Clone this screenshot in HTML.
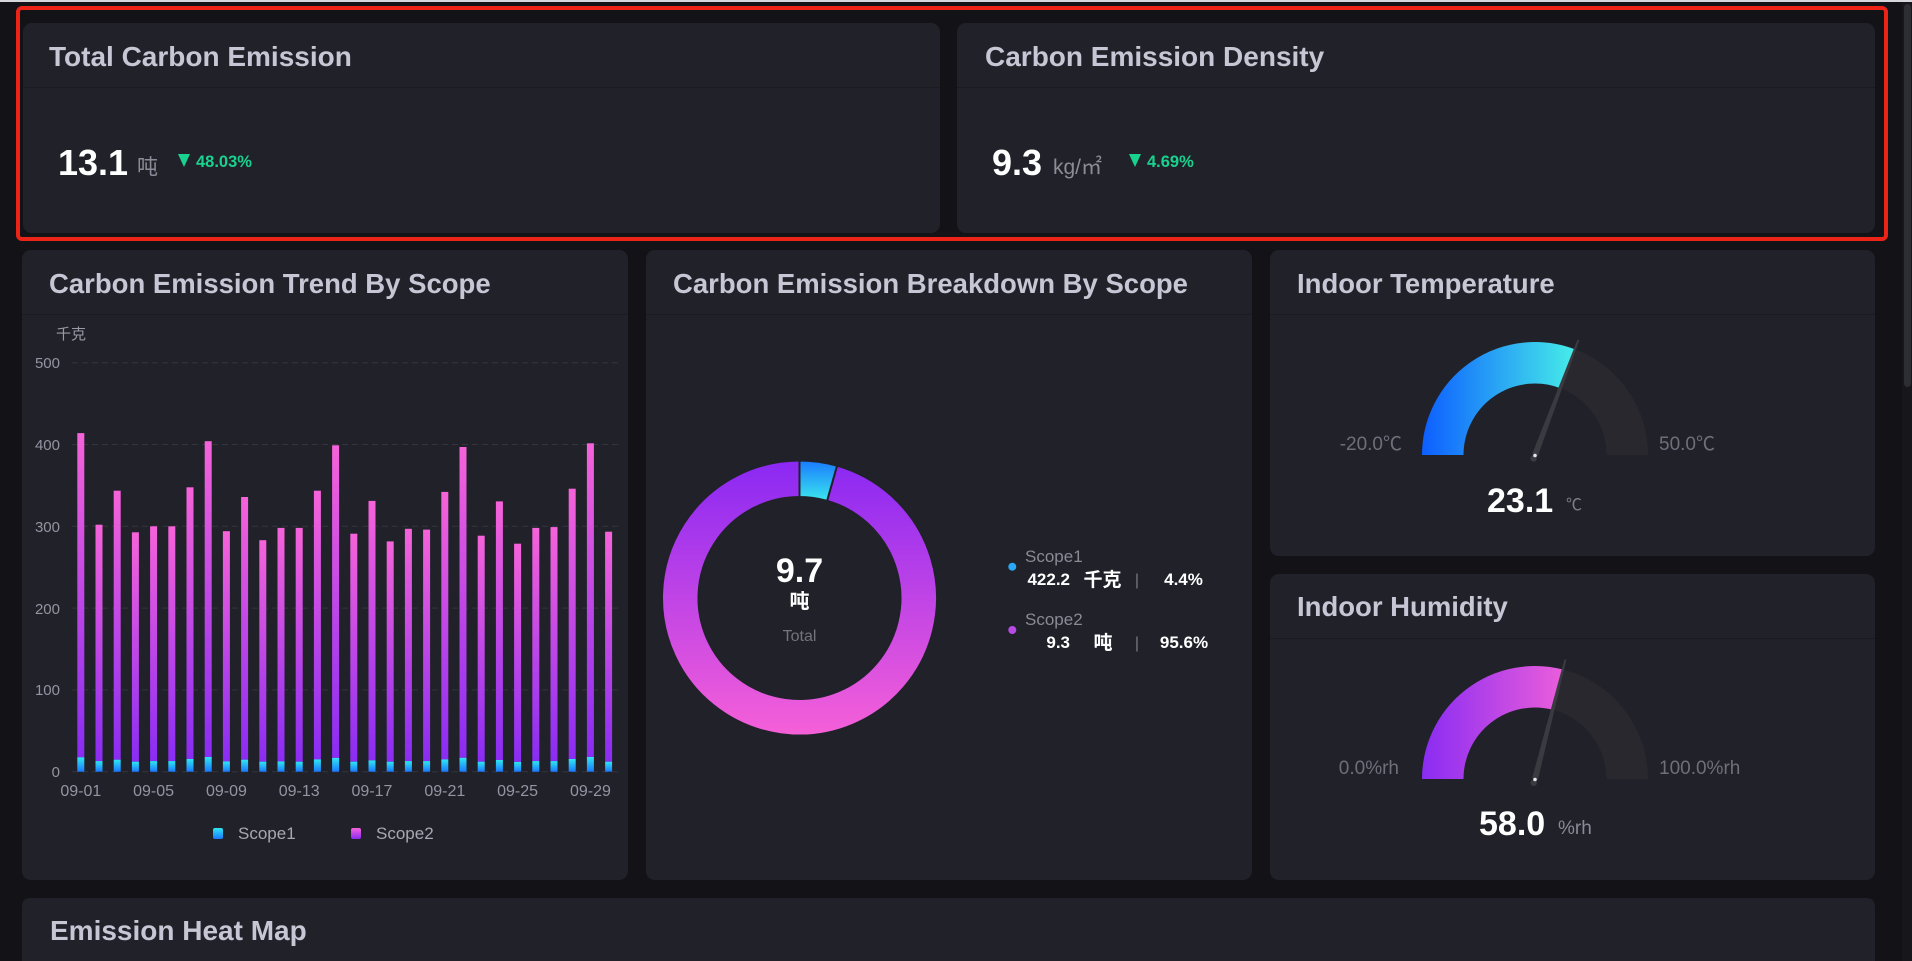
<!DOCTYPE html>
<html><head><meta charset="utf-8"><style>
html,body{margin:0;padding:0;background:#131317;width:1912px;height:961px;overflow:hidden}
svg{display:block}
text{font-family:"Liberation Sans","Noto Sans CJK SC",sans-serif}
</style></head><body>
<svg width="1912" height="961" viewBox="0 0 1912 961" xmlns="http://www.w3.org/2000/svg">
<defs>
<linearGradient id="s2" x1="0" y1="0" x2="0" y2="1"><stop offset="0" stop-color="#f663d9"/><stop offset="1" stop-color="#8a2cf3"/></linearGradient>
<linearGradient id="s1" x1="0" y1="0" x2="0" y2="1"><stop offset="0" stop-color="#30e6f0"/><stop offset="1" stop-color="#1a78ff"/></linearGradient>
<linearGradient id="d2" gradientUnits="userSpaceOnUse" x1="0" y1="460" x2="0" y2="736"><stop offset="0" stop-color="#8a28f3"/><stop offset="1" stop-color="#f660d8"/></linearGradient>
<linearGradient id="d1" x1="0" y1="0" x2="0" y2="1"><stop offset="0" stop-color="#1a7aff"/><stop offset="1" stop-color="#3ae8ee"/></linearGradient>
<linearGradient id="gt" gradientUnits="userSpaceOnUse" x1="1422" y1="0" x2="1580" y2="0"><stop offset="0" stop-color="#0d5eff"/><stop offset="1" stop-color="#48f2e8"/></linearGradient>
<linearGradient id="gh" gradientUnits="userSpaceOnUse" x1="1422" y1="0" x2="1575" y2="0"><stop offset="0" stop-color="#8a2cf3"/><stop offset="1" stop-color="#f262d8"/></linearGradient>
</defs>
<rect x="0" y="0" width="1912" height="961" fill="#131317"/>
<rect x="0" y="0" width="1912" height="2" fill="#d6d6db"/>

<!-- Top row cards -->
<rect x="23" y="23" width="917" height="210" rx="9" fill="#21212a"/>
<rect x="957" y="23" width="918" height="210" rx="9" fill="#21212a"/>
<rect x="23" y="87" width="917" height="1" fill="#1a1a21"/>
<rect x="957" y="87" width="918" height="1" fill="#1a1a21"/>
<text x="49" y="66" font-size="28" font-weight="bold" fill="#c6c6d4">Total Carbon Emission</text>
<text x="985" y="66" font-size="28" font-weight="bold" fill="#c6c6d4">Carbon Emission Density</text>
<text x="58" y="175" font-size="36" font-weight="bold" fill="#ffffff">13.1</text>
<text x="137" y="174" font-size="21" fill="#8c8c98">吨</text>
<polygon points="178,154 190,154 184,167" fill="#19d28e"/>
<text x="196" y="167" font-size="16.5" font-weight="bold" fill="#19d28e">48.03%</text>
<text x="992" y="175" font-size="36" font-weight="bold" fill="#ffffff">9.3</text>
<text x="1053" y="174" font-size="21" fill="#8c8c98">kg/㎡</text>
<polygon points="1129,154 1141,154 1135,167" fill="#19d28e"/>
<text x="1147" y="167" font-size="16.5" font-weight="bold" fill="#19d28e">4.69%</text>

<!-- red highlight -->
<rect x="18" y="8" width="1868" height="231" rx="4" fill="none" stroke="#ec2418" stroke-width="4"/>

<!-- Row 2 cards -->
<rect x="22" y="250" width="606" height="630" rx="9" fill="#21212a"/>
<rect x="646" y="250" width="606" height="630" rx="9" fill="#21212a"/>
<rect x="1270" y="250" width="605" height="306" rx="9" fill="#21212a"/>
<rect x="1270" y="574" width="605" height="306" rx="9" fill="#21212a"/>
<path d="M22,961 L22,907 Q22,898 31,898 L1866,898 Q1875,898 1875,907 L1875,961 Z" fill="#21212a"/>
<rect x="22" y="314" width="606" height="1" fill="#1a1a21"/>
<rect x="646" y="314" width="606" height="1" fill="#1a1a21"/>
<rect x="1270" y="314" width="605" height="1" fill="#1a1a21"/>
<rect x="1270" y="638" width="605" height="1" fill="#1a1a21"/>

<text x="49" y="293" font-size="27.5" font-weight="bold" fill="#c6c6d4">Carbon Emission Trend By Scope</text>
<text x="673" y="293" font-size="27.5" font-weight="bold" fill="#c6c6d4">Carbon Emission Breakdown By Scope</text>
<text x="1297" y="293" font-size="27.5" font-weight="bold" fill="#c6c6d4">Indoor Temperature</text>
<text x="1297" y="616" font-size="27.5" font-weight="bold" fill="#c6c6d4">Indoor Humidity</text>
<text x="50" y="940" font-size="28" font-weight="bold" fill="#c6c6d4">Emission Heat Map</text>

<!-- Trend chart -->
<text x="56" y="339" font-size="15" fill="#9a9aa6">千克</text>
<g stroke="#34343e" stroke-width="1" stroke-dasharray="6,4">
<line x1="72" y1="362.7" x2="618" y2="362.7"/>
<line x1="72" y1="444.5" x2="618" y2="444.5"/>
<line x1="72" y1="526.3" x2="618" y2="526.3"/>
<line x1="72" y1="608.1" x2="618" y2="608.1"/>
<line x1="72" y1="689.9" x2="618" y2="689.9"/>
<line x1="72" y1="771.7" x2="618" y2="771.7"/>
</g>
<g font-size="15" fill="#9494a2" text-anchor="end">
<text x="60" y="368">500</text>
<text x="60" y="450">400</text>
<text x="60" y="532">300</text>
<text x="60" y="614">200</text>
<text x="60" y="695">100</text>
<text x="60" y="777">0</text>
</g>
<g fill="url(#s2)">
<rect x="77.3" y="433.1" width="7" height="324.2"/>
<rect x="95.5" y="524.7" width="7" height="236.4"/>
<rect x="113.7" y="490.7" width="7" height="269"/>
<rect x="131.9" y="532.3" width="7" height="229.4"/>
<rect x="150.1" y="526.3" width="7" height="234.8"/>
<rect x="168.3" y="526.3" width="7" height="234.8"/>
<rect x="186.5" y="487.3" width="7" height="271.7"/>
<rect x="204.7" y="441.2" width="7" height="315.8"/>
<rect x="222.9" y="531.2" width="7" height="230.2"/>
<rect x="241.1" y="497" width="7" height="262.7"/>
<rect x="259.3" y="540.2" width="7" height="221.5"/>
<rect x="277.5" y="527.9" width="7" height="233.5"/>
<rect x="295.7" y="527.9" width="7" height="233.8"/>
<rect x="313.9" y="490.7" width="7" height="268.7"/>
<rect x="332.1" y="445.3" width="7" height="312.6"/>
<rect x="350.3" y="533.7" width="7" height="228"/>
<rect x="368.5" y="500.9" width="7" height="259.5"/>
<rect x="386.7" y="541.4" width="7" height="220.3"/>
<rect x="404.9" y="528.8" width="7" height="232.3"/>
<rect x="423.1" y="529.6" width="7" height="231.5"/>
<rect x="441.3" y="491.9" width="7" height="267.5"/>
<rect x="459.5" y="447" width="7" height="310.8"/>
<rect x="477.7" y="535.7" width="7" height="226"/>
<rect x="495.9" y="501.4" width="7" height="258.6"/>
<rect x="514.1" y="543.7" width="7" height="218.2"/>
<rect x="532.3" y="527.9" width="7" height="233.2"/>
<rect x="550.5" y="527.1" width="7" height="234"/>
<rect x="568.7" y="488.7" width="7" height="270.3"/>
<rect x="586.9" y="443.3" width="7" height="313.7"/>
<rect x="605.1" y="531.7" width="7" height="230"/>
</g>
<g fill="url(#s1)">
<rect x="77.3" y="757.3" width="7" height="14.4"/>
<rect x="95.5" y="761.1" width="7" height="10.6"/>
<rect x="113.7" y="759.7" width="7" height="12"/>
<rect x="131.9" y="761.7" width="7" height="10"/>
<rect x="150.1" y="761.1" width="7" height="10.6"/>
<rect x="168.3" y="761.1" width="7" height="10.6"/>
<rect x="186.5" y="759" width="7" height="12.7"/>
<rect x="204.7" y="757" width="7" height="14.7"/>
<rect x="222.9" y="761.4" width="7" height="10.3"/>
<rect x="241.1" y="759.7" width="7" height="12"/>
<rect x="259.3" y="761.7" width="7" height="10"/>
<rect x="277.5" y="761.4" width="7" height="10.3"/>
<rect x="295.7" y="761.7" width="7" height="10"/>
<rect x="313.9" y="759.4" width="7" height="12.3"/>
<rect x="332.1" y="757.9" width="7" height="13.8"/>
<rect x="350.3" y="761.7" width="7" height="10"/>
<rect x="368.5" y="760.4" width="7" height="11.3"/>
<rect x="386.7" y="761.7" width="7" height="10"/>
<rect x="404.9" y="761.1" width="7" height="10.6"/>
<rect x="423.1" y="761.1" width="7" height="10.6"/>
<rect x="441.3" y="759.4" width="7" height="12.3"/>
<rect x="459.5" y="757.8" width="7" height="13.9"/>
<rect x="477.7" y="761.7" width="7" height="10"/>
<rect x="495.9" y="760" width="7" height="11.7"/>
<rect x="514.1" y="761.9" width="7" height="9.8"/>
<rect x="532.3" y="761.1" width="7" height="10.6"/>
<rect x="550.5" y="761.1" width="7" height="10.6"/>
<rect x="568.7" y="759" width="7" height="12.7"/>
<rect x="586.9" y="757" width="7" height="14.7"/>
<rect x="605.1" y="761.7" width="7" height="10"/>
</g>
<g font-size="16" fill="#9494a2" text-anchor="middle">
<text x="80.8" y="796">09-01</text>
<text x="153.6" y="796">09-05</text>
<text x="226.4" y="796">09-09</text>
<text x="299.2" y="796">09-13</text>
<text x="372" y="796">09-17</text>
<text x="444.8" y="796">09-21</text>
<text x="517.6" y="796">09-25</text>
<text x="590.4" y="796">09-29</text>
</g>
<rect x="213" y="828" width="10" height="11" rx="2" fill="url(#s1)"/>
<text x="238" y="839" font-size="17" fill="#a8a8b4">Scope1</text>
<rect x="351" y="828" width="10" height="11" rx="2" fill="url(#s2)"/>
<text x="376" y="839" font-size="17" fill="#a8a8b4">Scope2</text>

<!-- Donut -->
<path d="M837.03,465.72 A137.5,137.5 0 1 1 799.5,460.5 L799.5,497 A101,101 0 1 0 827.06,500.84 Z" fill="url(#d2)" stroke="#21212a" stroke-width="2"/>
<path d="M799.5,460.5 A137.5,137.5 0 0 1 837.03,465.72 L827.06,500.84 A101,101 0 0 0 799.5,497 Z" fill="url(#d1)" stroke="#21212a" stroke-width="2"/>
<text x="799.5" y="582" font-size="34" font-weight="bold" fill="#ffffff" text-anchor="middle">9.7</text>
<text x="799.5" y="608" font-size="20" font-weight="bold" fill="#ffffff" text-anchor="middle">吨</text>
<text x="799.5" y="641" font-size="16" fill="#74747f" text-anchor="middle">Total</text>

<circle cx="1012.3" cy="566.7" r="4" fill="#2aa8f5"/>
<circle cx="1012.3" cy="630" r="4" fill="#b84ae6"/>
<text x="1025" y="562" font-size="17" fill="#8a8a96">Scope1</text>
<text x="1025" y="625" font-size="17" fill="#8a8a96">Scope2</text>
<g font-size="17" font-weight="bold" fill="#ffffff">
<text x="1070" y="585" text-anchor="end">422.2</text>
<text x="1102.5" y="586" text-anchor="middle" font-size="19">千克</text>
<text x="1183.5" y="585" text-anchor="middle">4.4%</text>
<text x="1070" y="648" text-anchor="end">9.3</text>
<text x="1103" y="649" text-anchor="middle" font-size="19">吨</text>
<text x="1184" y="648" text-anchor="middle">95.6%</text>
</g>
<text x="1137" y="585" font-size="16" fill="#77777f" text-anchor="middle">|</text>
<text x="1137" y="648" font-size="16" fill="#77777f" text-anchor="middle">|</text>

<!-- Temperature gauge -->
<path d="M1442.75,455 A92.25,92.25 0 0 1 1627.25,455" fill="none" stroke="#29282f" stroke-width="41.5"/>
<path d="M1442.75,455 A92.25,92.25 0 0 1 1567.8,368.8" fill="none" stroke="url(#gt)" stroke-width="41.5"/>
<polygon points="1537.8,456.1 1532.2,453.9 1577.5,339.6 1579.3,340.3" fill="#3a3a41"/>
<circle cx="1533.6" cy="458.5" r="3.2" fill="#3a3a41"/>
<circle cx="1535" cy="455.5" r="1.8" fill="#e6e6ea"/>
<text x="1402" y="450" font-size="19" fill="#6f6f7b" text-anchor="end">-20.0℃</text>
<text x="1659" y="450" font-size="19" fill="#6f6f7b">50.0℃</text>
<text x="1487" y="512" font-size="34" font-weight="bold" fill="#ffffff">23.1</text>
<text x="1566" y="510" font-size="16" fill="#80808c">℃</text>

<!-- Humidity gauge -->
<path d="M1442.75,779 A92.25,92.25 0 0 1 1627.25,779" fill="none" stroke="#29282f" stroke-width="41.5"/>
<path d="M1442.75,779 A92.25,92.25 0 0 1 1557.9,689.66" fill="none" stroke="url(#gh)" stroke-width="41.5"/>
<polygon points="1537.9,779.7 1532.1,778.3 1564.5,659.2 1566.4,659.7" fill="#3a3a41"/>
<circle cx="1533.8" cy="782.8" r="3.2" fill="#3a3a41"/>
<circle cx="1535" cy="779.5" r="1.8" fill="#e6e6ea"/>
<text x="1399" y="774" font-size="19" fill="#6f6f7b" text-anchor="end">0.0%rh</text>
<text x="1659" y="774" font-size="19" fill="#6f6f7b">100.0%rh</text>
<text x="1479" y="835" font-size="34" font-weight="bold" fill="#ffffff">58.0</text>
<text x="1558" y="834" font-size="19" fill="#8a8a96">%rh</text>

<!-- scrollbar -->
<rect x="1902" y="2" width="10" height="959" fill="#17171b"/>
<rect x="1904" y="4" width="7" height="383" rx="3.5" fill="#2d2d34"/>
</svg>
</body></html>
